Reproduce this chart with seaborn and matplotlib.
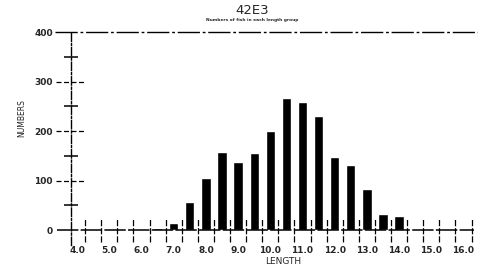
import matplotlib
matplotlib.use("Agg")
import matplotlib.pyplot as plt
import numpy as np
import pandas as pd
import seaborn as sns

# length classes (bar centres) and counts
LENGTHS = [4.0, 4.5, 5.0, 5.5, 6.0, 6.5, 7.0, 7.5, 8.0, 8.5, 9.0, 9.5,
           10.0, 10.5, 11.0, 11.5, 12.0, 12.5, 13.0, 13.5, 14.0, 14.5, 15.0]
COUNTS = [0, 0, 0, 2, 1, 4, 15, 57, 106, 158, 137, 155,
          200, 266, 258, 230, 147, 131, 83, 32, 29, 3, 1]

X_TICKS = [4.0, 5.0, 6.0, 7.0, 8.0, 9.0, 10.0, 11.0, 12.0, 13.0, 14.0, 15.0, 16.0]
X_TICK_LABELS = ["4.0", "5.0", "6.0", "7.0", "8.0", "9.0", "10.0", "11.0",
                 "12.0", "13.0", "14.0", "15.0", "16.0"]
Y_TICKS = [0, 100, 200, 300, 400]
Y_MINOR = [50, 150, 250, 350]

TITLE = "42E3"
SUBTITLE = "Numbers of fish in each length group"

sns.set_theme(style="white")
plt.rcParams["font.family"] = ["DejaVu Sans"]

df = pd.DataFrame({"length": LENGTHS, "count": COUNTS})

fig = plt.figure(figsize=(4.78, 2.73), dpi=100)
ax = fig.add_axes([71 / 478, 28 / 273, 407 / 478, 213 / 273])

sns.barplot(data=df, x="length", y="count", native_scale=True, width=0.58,
            color="black", saturation=1, errorbar=None, ax=ax)

ax.set_xlim(3.81, 16.45)
ax.set_ylim(-30, 400)

for side in ["top", "right", "bottom"]:
    ax.spines[side].set_visible(False)
ax.spines["left"].set_linestyle((0, (6, 1.5, 1.5, 1.5)))
ax.spines["left"].set_linewidth(1.0)
ax.spines["left"].set_color("black")

# y axis ticks
ax.set_yticks(Y_TICKS)
ax.set_yticklabels([str(v) for v in Y_TICKS], fontsize=6.5, fontweight="bold")
ax.tick_params(axis="y", which="major", length=0, pad=13)
ax.set_yticks(Y_MINOR, minor=True)
ax.tick_params(axis="y", which="minor", direction="inout", length=10, width=1.1,
               color="black", left=True)
ytrans = ax.get_yaxis_transform()
ax.hlines(Y_TICKS[1:4], -0.038, 0.035, transform=ytrans, colors="black",
          linewidth=0.9, linestyles=(0, (4, 2)), clip_on=False)

# top frame and baseline
ax.hlines(400, -0.04, 1.0, transform=ytrans, colors="black", linewidth=1.0,
          linestyles=(0, (16, 2, 2, 2)), clip_on=False)
ax.hlines(0, -0.035, 0.99, transform=ytrans, colors="black", linewidth=1.1,
          linestyles=(0, (14, 1.5)), clip_on=False)

# dashed class-boundary ticks on the x axis
edges = np.arange(LENGTHS[0] + 0.25, 16.3, 0.5)
ax.vlines(edges, -24, 22, colors="black", linewidth=0.9,
          linestyles=(0, (5, 1.5)), clip_on=False)

ax.set_xticks(X_TICKS)
ax.set_xticklabels(X_TICK_LABELS, fontsize=6.5, fontweight="bold")
ax.tick_params(axis="x", which="major", length=0, pad=0.5)
ax.set_xlabel("")
ax.set_ylabel("")

fig.text(252 / 478, 1 - 11 / 273, TITLE, ha="center", va="center", fontsize=9.5)
fig.text(252 / 478, 1 - 20 / 273, SUBTITLE, ha="center", va="center",
         fontsize=3.2, fontweight="bold")
fig.text(22 / 478, 1 - 118 / 273, "NUMBERS", ha="center", va="center",
         rotation=90, fontsize=5.5)
fig.text(283 / 478, 1 - 262 / 273, "LENGTH", ha="center", va="center",
         fontsize=6.5)

fig.savefig("out.png", dpi=100)
